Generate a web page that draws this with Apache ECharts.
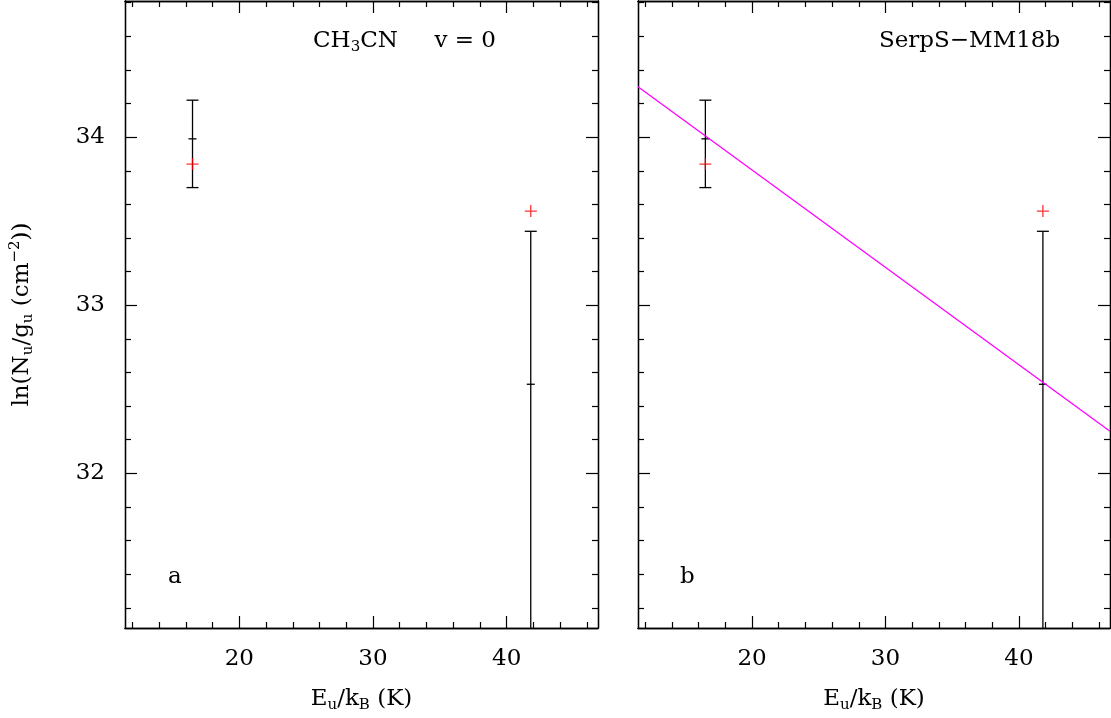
<!DOCTYPE html>
<html>
<head>
<meta charset="UTF-8">
<script src="https://cdn.jsdelivr.net/npm/echarts@6/dist/echarts.min.js"></script>
</head>
<body style="margin:0;background:#fff">
<div id="main" style="width:1111px;height:718px"></div>
<script>
// energies (K), fitted values, error bounds and observed points
var eup = [16.5, 41.8];
var fitVal = [33.99, 32.53];
var errLow = [33.70, 30.9];
var errHigh = [34.22, 33.44];
var obsVal = [33.84, 33.56];
var fitLineX = [11.45, 46.83];
var fitLineY = [34.30, 32.25];
var xTicks = [20, 30, 40];
var yTicks = [32, 33, 34];

var F = 'DejaVu Serif';
var XMIN = 11.45, XMAX = 46.83, YMIN = 31.08, YMAX = 34.81;
var xMinor = [], yMinor = [];
for (var v = 12; v <= 46; v += 2) if (v % 10) xMinor.push(v);
for (var k = 156; k <= 174; k++) if (k % 5) yMinor.push(k / 5);

var chart = echarts.init(document.getElementById('main'));

var nameRich = {n: {fontFamily: F, fontSize: 23, color: '#000'},
    s: {fontFamily: F, fontSize: 15, color: '#000', padding: [12, 0, 0, 0]},
    p: {fontFamily: F, fontSize: 15, color: '#000', padding: [0, 0, 14, 0]}};

function ax(type, g, pos, ticks, len, lab) {
    var a = {
        type: 'value', gridIndex: g, position: pos,
        min: type == 'x' ? XMIN : YMIN, max: type == 'x' ? XMAX : YMAX,
        axisLine: {show: true, lineStyle: {color: '#000', width: 1.3}},
        axisTick: {inside: true, length: len, customValues: ticks, lineStyle: {color: '#000', width: 1.2}},
        splitLine: {show: false},
        axisLabel: {show: !!lab, customValues: ticks, color: '#000', fontFamily: F, fontSize: 23, margin: 20}
    };
    if (lab && type == 'x') {
        a.name = '{n|E}{s|u}{n|/k}{s|B}{n| (K)}';
        a.nameLocation = 'middle'; a.nameGap = 58; a.nameTextStyle = {rich: nameRich};
    }
    if (lab == 2) {
        a.name = '{n|ln(N}{s|u}{n|/g}{s|u}{n| (cm}{p|−2}{n|))}';
        a.nameLocation = 'middle'; a.nameGap = 88; a.nameTextStyle = {rich: nameRich};
    }
    return a;
}

var xAxes = [], yAxes = [];
[0, 1].forEach(function (g) {
    xAxes.push(ax('x', g, 'bottom', xTicks, 12, true));
    xAxes.push(ax('x', g, 'bottom', xMinor, 6, false));
    xAxes.push(ax('x', g, 'top', xTicks, 12, false));
    xAxes.push(ax('x', g, 'top', xMinor, 6, false));
    yAxes.push(ax('y', g, 'left', yTicks, 12, g == 0 ? 2 : false));
    yAxes.push(ax('y', g, 'left', yMinor, 6, false));
    yAxes.push(ax('y', g, 'right', yTicks, 12, false));
    yAxes.push(ax('y', g, 'right', yMinor, 6, false));
});

function errSeries(g) {
    var data = eup.map(function (x, i) { return [x, errLow[i], errHigh[i], fitVal[i]]; });
    return {
        type: 'custom', xAxisIndex: g * 4, yAxisIndex: g * 4, clip: true, data: data,
        renderItem: function (p, api) {
            var lo = api.coord([api.value(0), api.value(1)]);
            var hi = api.coord([api.value(0), api.value(2)]);
            var c = api.coord([api.value(0), api.value(3)]);
            var st = {stroke: '#000', lineWidth: 1.3};
            var w = 6;
            var kids = [
                {type: 'line', shape: {x1: lo[0], y1: lo[1], x2: hi[0], y2: hi[1]}, style: st},
                {type: 'line', shape: {x1: hi[0] - w, y1: hi[1], x2: hi[0] + w, y2: hi[1]}, style: st},
                {type: 'line', shape: {x1: c[0] - 4, y1: c[1], x2: c[0] + 4, y2: c[1]}, style: st}
            ];
            if (api.value(1) > YMIN) kids.push({type: 'line', shape: {x1: lo[0] - w, y1: lo[1], x2: lo[0] + w, y2: lo[1]}, style: st});
            return {type: 'group', children: kids};
        }
    };
}
function obsSeries(g) {
    return {
        type: 'scatter', xAxisIndex: g * 4, yAxisIndex: g * 4, symbol: 'path://M5,0L5,10M0,5L10,5',
        symbolSize: 12, itemStyle: {color: 'none', borderColor: '#f00', borderWidth: 1.3},
        data: eup.map(function (x, i) { return [x, obsVal[i]]; }), z: 5
    };
}

option = {
    animation: false,
    grid: [
        {left: 125, right: 513, top: 1, bottom: 88},
        {left: 638, right: 1, top: 1, bottom: 88}
    ],
    xAxis: xAxes,
    yAxis: yAxes,
    series: [
        errSeries(0), obsSeries(0), errSeries(1), obsSeries(1),
        {type: 'line', xAxisIndex: 4, yAxisIndex: 4, symbol: 'none', lineStyle: {color: '#f0f', width: 1.3},
            data: fitLineX.map(function (x, i) { return [x, fitLineY[i]]; })}
    ],
    graphic: [
        {type: 'text', left: 313, top: 30, style: {text: '{n|CH}{s|3}{n|CN     v = 0}', rich: nameRich}},
        {type: 'text', left: 879, top: 30, style: {text: 'SerpS−MM18b', font: '23px ' + F, fill: '#000'}},
        {type: 'text', left: 168, top: 566, style: {text: 'a', font: '23px ' + F, fill: '#000'}},
        {type: 'text', left: 680, top: 566, style: {text: 'b', font: '23px ' + F, fill: '#000'}}
    ]
};
chart.setOption(option);
</script>
</body>
</html>
